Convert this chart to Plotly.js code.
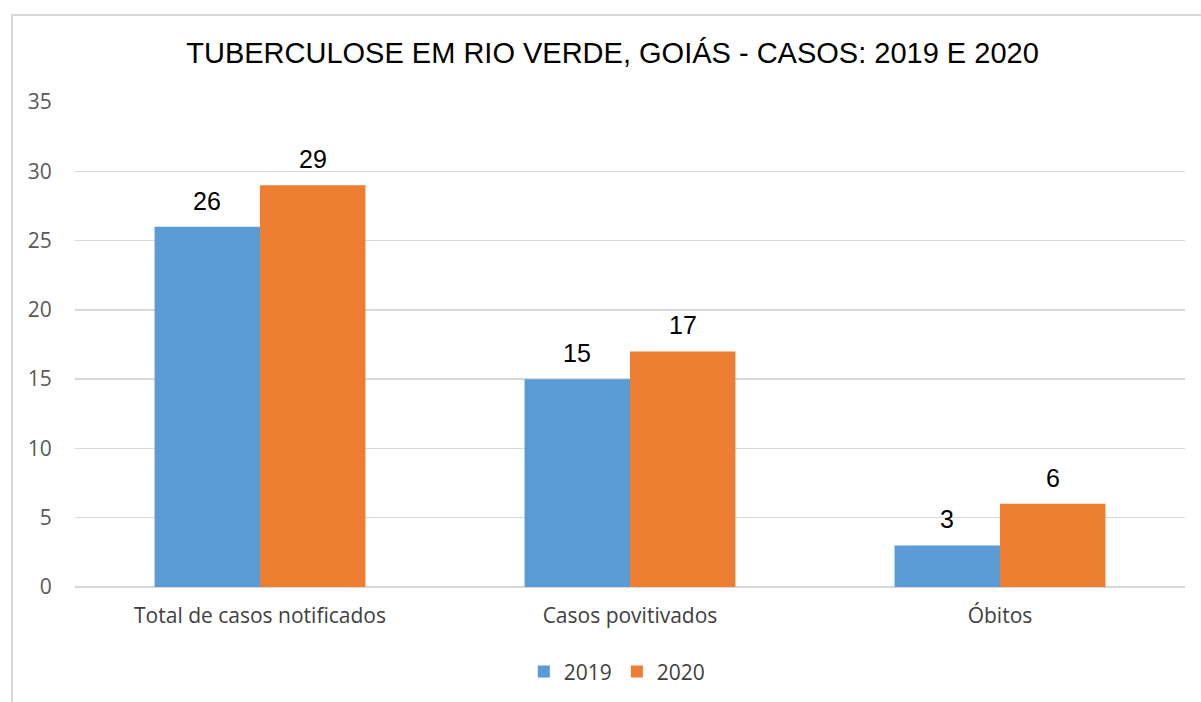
<!DOCTYPE html>
<html><head><meta charset="utf-8">
<script src="https://cdn.plot.ly/plotly-3.0.1.min.js"></script>
<style>
html,body{margin:0;padding:0;background:#fff;}
#wrap{position:relative;width:1201px;height:702px;overflow:hidden;}
#chart{position:absolute;left:0;top:0;width:1201px;height:702px;}
#frame{position:absolute;left:11px;top:14px;width:1200px;height:700px;border:2px solid #d9d9d9;box-sizing:border-box;pointer-events:none;}
</style></head>
<body><div id="wrap"><div id="chart"></div><div id="frame"></div></div>
<script>
var categories = ["Total de casos notificados", "Casos povitivados", "Óbitos"];
var seriesNames = ["2019", "2020"];
var values2019 = [26, 15, 3];
var values2020 = [29, 17, 6];
var colors = ["#5B9BD5", "#ED7D31"];

var allValues = [values2019, values2020];
var traces = allValues.map(function(v, i){
  return {
    type: "bar", name: seriesNames[i], x: categories, y: v,
    marker: {color: colors[i]}, hoverinfo: "x+y+name"
  };
});

var bargap = 0.43;
var plotW = 1201 - 75 - 16;
var barW = plotW / categories.length * (1 - bargap) / 2;
var annotations = [];
allValues.forEach(function(v, i){
  v.forEach(function(val, j){
    annotations.push({
      x: categories[j], y: val, xref: "x", yref: "y",
      text: String(val), showarrow: false,
      xshift: (i === 0 ? -1 : 1) * barW / 2, yshift: 10,
      yanchor: "bottom", xanchor: "center",
      font: {family: "Liberation Sans, Arial, sans-serif", size: 25, color: "#000"}
    });
  });
});

var layout = {
  width: 1201, height: 702,
  paper_bgcolor: "rgba(0,0,0,0)", plot_bgcolor: "#fff",
  margin: {l: 75, r: 16, t: 102, b: 115},
  title: {text: "TUBERCULOSE EM RIO VERDE, GOIÁS - CASOS: 2019 E 2020",
          font: {family: "Liberation Sans, Arial, sans-serif", size: 29, color: "#000"},
          x: 0.51, xanchor: "center", y: 0.925, yanchor: "middle"},
  barmode: "group", bargap: bargap, bargroupgap: 0,
  annotations: annotations,
  xaxis: {type: "category", showgrid: false, showline: false, zeroline: false,
          ticks: "outside", ticklen: 10, tickcolor: "rgba(0,0,0,0)",
          tickfont: {family: "Open Sans, sans-serif", size: 21, color: "#404040"}},
  yaxis: {range: [0, 35], dtick: 5, tick0: 0, showgrid: true, gridcolor: "#d9d9d9", gridwidth: 1.5,
          zeroline: true, zerolinecolor: "#d9d9d9", zerolinewidth: 1.5, showline: false,
          ticks: "outside", ticklen: 18, tickcolor: "rgba(0,0,0,0)",
          tickfont: {family: "Open Sans, sans-serif", size: 21, color: "#595959"}},
  showlegend: true,
  legend: {orientation: "h", xref: "container", yref: "container",
           x: 0.514, xanchor: "center", y: 0.043, yanchor: "middle",
           font: {family: "Open Sans, sans-serif", size: 21, color: "#404040"},
           itemwidth: 30, traceorder: "normal"}
};
Plotly.newPlot("chart", traces, layout, {displayModeBar: false, staticPlot: true});
</script></body></html>
